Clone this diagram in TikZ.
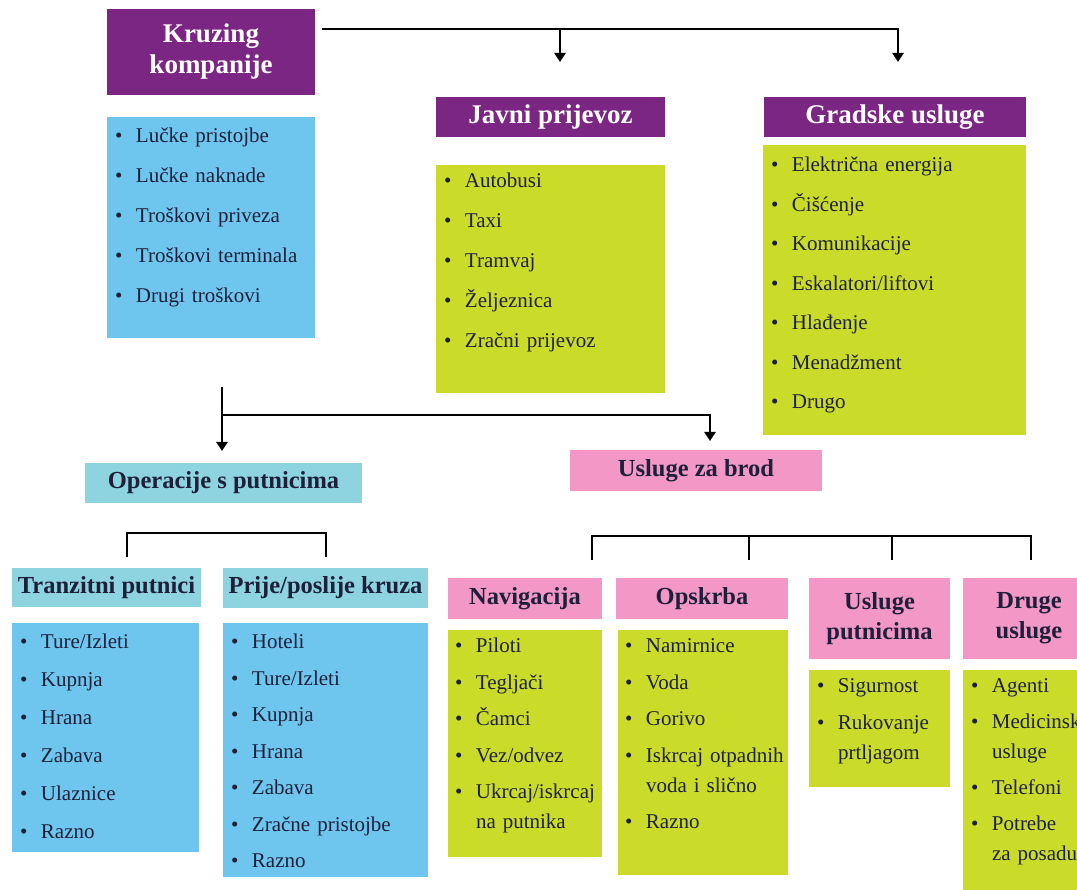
\documentclass[tikz,border=0pt]{standalone}
\usepackage{fontspec}
\setmainfont{Liberation Serif}
\usetikzlibrary{arrows.meta,calc}

\definecolor{ljubicasta}{RGB}{123,38,131}
\definecolor{plava}{RGB}{110,197,238}
\definecolor{zelena}{RGB}{203,219,42}
\definecolor{tirkizna}{RGB}{141,211,224}
\definecolor{ruzicasta}{RGB}{242,151,198}
\definecolor{tamna}{RGB}{30,32,58}

% jedna stavka popisa s tockom
\newcommand{\punkt}[1]{\hangindent=21pt\hangafter=1\makebox[21pt][l]{\textbullet}#1\par}

\tikzset{
  naslov/.style={fill=ljubicasta, text=white, inner sep=0pt, align=center,
    font=\fontsize{27}{31}\selectfont\bfseries},
  podnaslov/.style={text=tamna, inner sep=0pt, align=center,
    font=\fontsize{24.5}{30}\selectfont\bfseries},
  kutija/.style={inner sep=0pt},
  stavke/.style={anchor=base west, inner sep=0pt, text width=220pt, align=left,
    text=tamna, font=\fontsize{21}{30}\selectfont,
    execute at begin node={\setlength{\baselineskip}{30pt}\setlength{\parskip}{#1}}},
  veza/.style={line width=2.8pt, black},
  strelica/.style={veza, -{Triangle[width=11pt,length=9pt]}},
}

\begin{document}
\begin{tikzpicture}[x=1pt, y=-1pt]
  \useasboundingbox (0,0) rectangle (1077,890);
  \clip (0,0) rectangle (1077,890);

  % kruzing kompanije
  \node[naslov, minimum width=208pt, minimum height=86pt] (kruz) at (211,52) {Kruzing\\kompanije};
  \node[kutija, fill=plava, minimum width=208pt, minimum height=221pt] (kruzL) at (211,227.5) {};
  \node[stavke=10pt] (kruzT) at ($(kruzL.north west)+(8,26)$)
    {\punkt{Lučke pristojbe}\punkt{Lučke naknade}\punkt{Troškovi priveza}\punkt{Troškovi terminala}\punkt{Drugi troškovi}};

  % javni prijevoz
  \node[naslov, minimum width=229pt, minimum height=40pt] (javni) at (550.5,117) {Javni prijevoz};
  \node[kutija, fill=zelena, minimum width=229pt, minimum height=228pt] (javniL) at (550.5,279) {};
  \node[stavke=10pt] (javniT) at ($(javniL.north west)+(8,23)$)
    {\punkt{Autobusi}\punkt{Taxi}\punkt{Tramvaj}\punkt{Željeznica}\punkt{Zračni prijevoz}};

  % gradske usluge
  \node[naslov, minimum width=262pt, minimum height=40pt] (grad) at (895,117) {Gradske usluge};
  \node[kutija, fill=zelena, minimum width=263pt, minimum height=290pt] (gradL) at (894.5,290) {};
  \node[stavke=9.5pt] (gradT) at ($(gradL.north west)+(8,27)$)
    {\punkt{Električna energija}\punkt{Čišćenje}\punkt{Komunikacije}\punkt{Eskalatori/liftovi}\punkt{Hlađenje}\punkt{Menadžment}\punkt{Drugo}};

  % strelice od kruzing kompanija
  \coordinate (t0) at (322,29);
  \coordinate (t1) at (560,62);
  \coordinate (t2) at (898,62);
  \draw[strelica] (t0) -| (t2);
  \draw[strelica] (t0 -| t1) -- (t1);

  % strelice prema operacijama i brodu
  \coordinate (s0) at (222,387);
  \coordinate (s1) at (222,451);
  \coordinate (s3) at (222,415);
  \coordinate (s2) at (710,441);
  \draw[strelica] (s0) -- (s1);
  \draw[strelica] (s3) -| (s2);

  % operacije s putnicima
  \node[podnaslov, fill=tirkizna, minimum width=277pt, minimum height=40pt] (oper) at (223.5,483) {Operacije s putnicima};
  \coordinate (oA) at (127,557);
  \coordinate (oB) at (326,557);
  \draw[veza] (oA) -- ++(0,-24) -| (oB);

  % tranzitni putnici
  \node[podnaslov, fill=tirkizna, minimum width=189pt, minimum height=39pt] (tranz) at (106.5,587.5) {Tranzitni putnici};
  \node[kutija, fill=plava, minimum width=187pt, minimum height=229pt] (tranzL) at (105.5,737.5) {};
  \node[stavke=8pt] (tranzT) at ($(tranzL.north west)+(8,26)$)
    {\punkt{Ture/Izleti}\punkt{Kupnja}\punkt{Hrana}\punkt{Zabava}\punkt{Ulaznice}\punkt{Razno}};

  % prije/poslije kruza
  \node[podnaslov, fill=tirkizna, minimum width=205pt, minimum height=40pt] (prije) at (325.5,588) {Prije/poslije kruza};
  \node[kutija, fill=plava, minimum width=205pt, minimum height=254pt] (prijeL) at (325.5,750) {};
  \node[stavke=6.5pt] (prijeT) at ($(prijeL.north west)+(8,26)$)
    {\punkt{Hoteli}\punkt{Ture/Izleti}\punkt{Kupnja}\punkt{Hrana}\punkt{Zabava}\punkt{Zračne pristojbe}\punkt{Razno}};

  % usluge za brod
  \node[podnaslov, fill=ruzicasta, minimum width=252pt, minimum height=41pt] (brod) at (696,470.5) {Usluge za brod};
  \coordinate (b1) at (592,560);
  \coordinate (b2) at (749,560);
  \coordinate (b3) at (892,560);
  \coordinate (b4) at (1031,560);
  \draw[veza] (b1) -- ++(0,-24) -| (b4);
  \foreach \k in {b2,b3}
    \draw[veza] (\k) -- ++(0,-24);

  % navigacija
  \node[podnaslov, fill=ruzicasta, minimum width=154pt, minimum height=41pt] (navig) at (525,598.5) {Navigacija};
  \node[kutija, fill=zelena, minimum width=154pt, minimum height=227pt] (navigL) at (525,743.5) {};
  \node[stavke=6.5pt] (navigT) at ($(navigL.north west)+(7,23)$)
    {\punkt{Piloti}\punkt{Tegljači}\punkt{Čamci}\punkt{Vez/odvez}\punkt{Ukrcaj/iskrcaj\newline na putnika}};

  % opskrba
  \node[podnaslov, fill=ruzicasta, minimum width=172pt, minimum height=41pt] (opskr) at (702,598.5) {Opskrba};
  \node[kutija, fill=zelena, minimum width=170pt, minimum height=245pt] (opskrL) at (703,752.5) {};
  \node[stavke=6.5pt] (opskrT) at ($(opskrL.north west)+(7,23)$)
    {\punkt{Namirnice}\punkt{Voda}\punkt{Gorivo}\punkt{Iskrcaj otpadnih\newline voda i slično}\punkt{Razno}};

  % usluge putnicima
  \node[podnaslov, fill=ruzicasta, minimum width=141pt, minimum height=81pt] (uputn) at (879.5,618.5) {Usluge\\putnicima};
  \node[kutija, fill=zelena, minimum width=141pt, minimum height=117pt] (uputnL) at (879.5,728.5) {};
  \node[stavke=7pt] (uputnT) at ($(uputnL.north west)+(8,23)$)
    {\punkt{Sigurnost}\punkt{Rukovanje\newline prtljagom}};

  % druge usluge
  \node[podnaslov, fill=ruzicasta, minimum width=132pt, minimum height=81pt] (druge) at (1029,618.5) {Druge\\usluge};
  \node[kutija, fill=zelena, minimum width=132pt, minimum height=230pt] (drugeL) at (1029,785) {};
  \node[stavke=6pt] (drugeT) at ($(drugeL.north west)+(8,23)$)
    {\punkt{Agenti}\punkt{Medicinske\newline usluge}\punkt{Telefoni}\punkt{Potrebe\newline za posadu}};
\end{tikzpicture}
\end{document}
